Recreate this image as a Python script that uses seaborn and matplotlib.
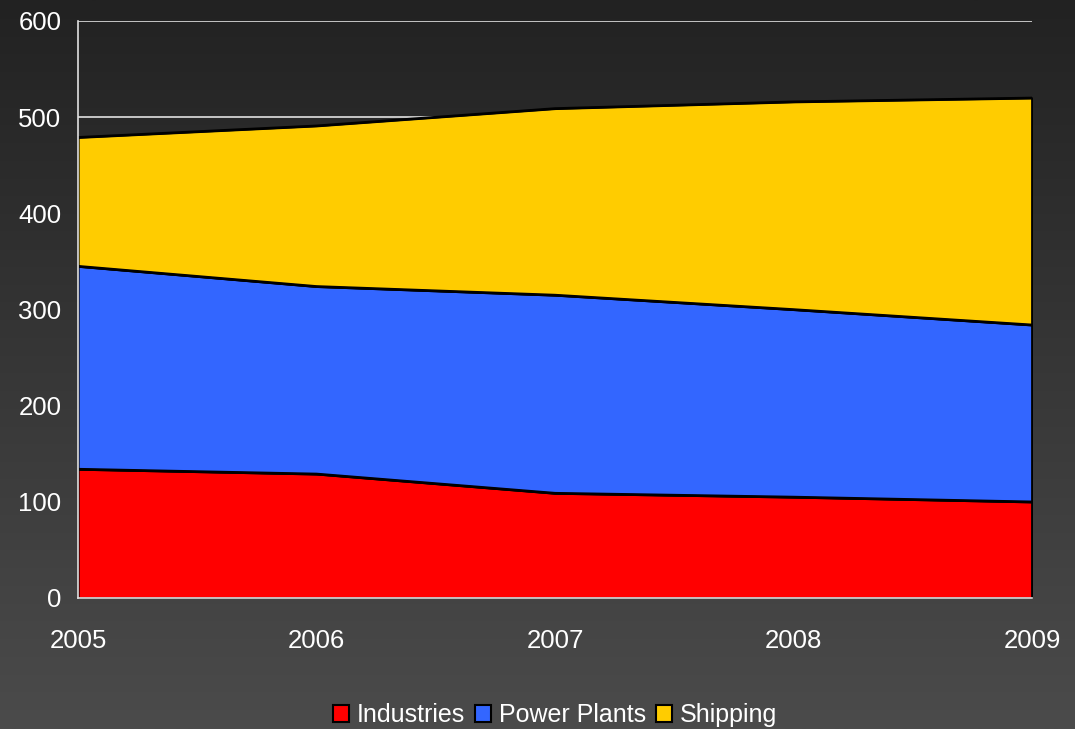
import numpy as np
import matplotlib
matplotlib.use("Agg")
import matplotlib.pyplot as plt
import seaborn as sns
from matplotlib.patches import Patch
from matplotlib.colors import LinearSegmentedColormap

years = [2005, 2006, 2007, 2008, 2009]
industries = [134, 129, 109, 105, 100]
power_plants = [211, 195, 206, 195, 184]
shipping = [134, 167, 194, 216, 236]
series_names = ["Industries", "Power Plants", "Shipping"]
colors = ["#ff0000", "#3366ff", "#ffcc00"]
y_ticks = [0, 100, 200, 300, 400, 500, 600]

sns.set_style("white")
plt.rcParams["font.family"] = ["Liberation Sans", "DejaVu Sans"]

fig = plt.figure(figsize=(10.75, 7.29), dpi=100)

# gradient background
bg = fig.add_axes([0, 0, 1, 1], zorder=-10)
grad = np.linspace(0, 1, 256).reshape(-1, 1)
cmap = LinearSegmentedColormap.from_list("bg", ["#222222", "#4b4b4b"])
bg.imshow(grad, aspect="auto", cmap=cmap, extent=[0, 1, 1, 0])
bg.set_axis_off()

ax = fig.add_axes([0.0726, 0.1797, 0.8874, 0.7915])
ax.patch.set_alpha(0)

ax.set_ylim(0, 600)
ax.set_xlim(years[0], years[-1])
for yv in y_ticks[1:]:
    ax.axhline(yv, color="#e0e0e0", lw=1.2, zorder=0)

ax.stackplot(years, industries, power_plants, shipping,
             colors=colors, edgecolor="black", linewidth=1.5, zorder=2)
cum = np.cumsum([industries, power_plants, shipping], axis=0)
for row in cum:
    sns.lineplot(x=years, y=row, color="black", lw=1.8, ax=ax, zorder=3)
ax.plot([years[-1], years[-1]], [0, cum[-1][-1]], color="black", lw=1.8, zorder=3)

for s in ["top", "right"]:
    ax.spines[s].set_visible(False)
for s in ["left", "bottom"]:
    ax.spines[s].set_color("#e0e0e0")
    ax.spines[s].set_linewidth(1.2)
    ax.spines[s].set_zorder(4)

ax.set_yticks(y_ticks)
ax.set_xticks(years)
ax.set_xticklabels([str(y) for y in years])
ax.tick_params(axis="both", colors="#e8e8e8", labelcolor="white", labelsize=18.5,
               direction="out", length=8, width=1.2)
ax.tick_params(axis="x", pad=14)
ax.tick_params(axis="y", pad=4)
ax.set_xlabel("")
ax.set_ylabel("")

handles = [Patch(facecolor=c, edgecolor="black", linewidth=1.5) for c in colors]
fig.legend(handles, series_names, loc="center", bbox_to_anchor=(0.516, 0.019),
           ncol=3, frameon=False, fontsize=18, labelcolor="white",
           handlelength=0.65, handleheight=0.65, handletextpad=0.3, columnspacing=0.4)

fig.savefig("out.png", dpi=100)
